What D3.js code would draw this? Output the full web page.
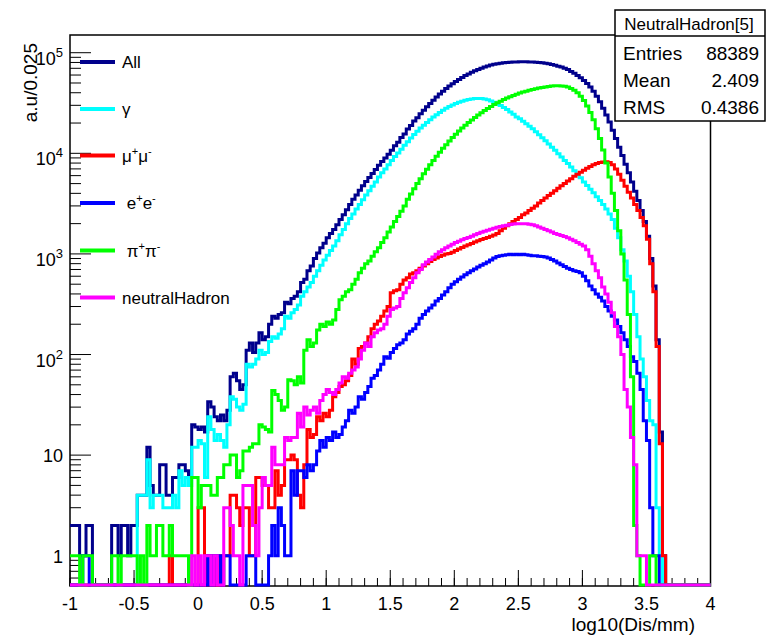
<!DOCTYPE html>
<html><head><meta charset="utf-8">
<script src="https://cdn.jsdelivr.net/npm/d3@7"></script>
<style>
body{margin:0;background:#fff}
svg{display:block}
text{font-family:"Liberation Sans",Arial,Helvetica,sans-serif;fill:#000}
</style>
</head><body>
<svg id="c" width="766" height="637"></svg>
<script>
// ---------------- data ----------------
const xDomain = [-1, 4];
const binWidth = 0.025;
const xTicks = [-1, -0.5, 0, 0.5, 1, 1.5, 2, 2.5, 3, 3.5, 4];
const xTickLabels = ["-1", "-0.5", "0", "0.5", "1", "1.5", "2", "2.5", "3", "3.5", "4"];
const yDomain = [0.5, 1.5e5];
const yMajorTicks = [1, 10, 100, 1000, 10000, 100000];
const yTickBase = ["1", "10", "10", "10", "10", "10"];
const yTickExp = ["", "", "2", "3", "4", "5"];
const xTitle = "log10(Dis/mm)";
const yTitle = "a.u/0.025";

// 200 bins of width 0.025 from -1 to 4
const allVals = [
 2,2,2,1,1,2,2,0,0,0,
 0,0,0,2,2,1,2,2,1,2,
 2,4,4,4,12,5,4,4,8,8,
 4,4,6,6,8,8,7,6,20,19,
 18,19,17,34,30,24,22,25,22,28,
 60,65,55,45,50,110,130,105,130,165,
 140,150,200,240,230,250,260,330,320,360,
 380,420,520,560,680,760,900,1020,1150,1280,
 1450,1600,1750,1950,2200,2450,2750,3100,3500,3850,
 4300,4750,5250,5750,6300,6900,7600,8300,9000,9800,
 10700,11900,12900,14400,15600,17400,18900,20900,22600,24800,
 26800,29000,31300,33700,36200,38800,41400,44000,46600,49200,
 51800,54300,56800,59200,61500,63800,66000,68000,70000,72000,
 73800,75300,76600,77700,78600,79400,80000,80500,81000,81000,
 81500,81500,81500,81000,81000,80500,80000,79500,78500,77500,
 76500,75000,73500,72000,70000,68000,65000,62500,59500,56500,
 53000,49500,45500,41500,37000,32500,28000,24000,20500,17000,
 14000,11500,9500,7800,6400,5200,4200,3400,2700,2100,
 1500,900,480,140,17,1,0,0,0,0,
 0,0,0,0,0,0,0,0,0,0
];
const gammaVals = [
 0,0,0,0,0,0,0,0,0,0,
 0,0,0,0,0,0,0,0,0,0,
 0,4,4,4,9,3,4,4,4,3,
 3,3,4,3,7,5,6,5,12,12,
 14,13,6,24,18,14,16,14,12,20,
 38,36,30,28,32,80,75,80,90,110,
 100,105,135,150,145,160,180,240,230,260,
 280,310,380,420,470,520,600,680,770,870,
 970,1080,1200,1350,1550,1750,2000,2250,2500,2800,
 3100,3450,3850,4250,4700,5200,5800,6400,7000,7700,
 8500,9300,10100,11000,12000,13000,14200,15400,16600,17800,
 19000,20300,21600,22900,24200,25500,26800,28000,29200,30300,
 31300,32200,33000,33700,34300,34700,35000,35100,35000,34600,
 34000,33200,32200,31000,29800,28500,27200,25800,24400,23000,
 22000,20800,19700,18600,17500,16400,15300,14300,13300,12400,
 11500,10700,9900,9200,8500,7900,7300,6700,6200,5700,
 5200,4800,4400,4050,3700,3400,3100,2800,2500,2200,
 1800,1450,1100,850,600,420,250,150,90,60,
 35,22,20,3,1,0,0,0,0,0,
 0,0,0,0,0,0,0,0,0,0
];
const muVals = [
 0,0,0,0,0,0,0,0,0,0,
 0,0,0,0,0,0,0,0,0,0,
 0,0,0,0,0,0,0,0,0,0,
 0,1,0,0,0,0,0,0,0,0,
 3,3,0,1,1,0,1,0,1,1,
 4,4,3,2,3,3,1,1,6,6,
 5,5,3,3,7,4,5,9,9,10,
 9,4,3,8,18,15,16,24,22,26,
 24,28,38,42,48,50,55,62,90,80,
 115,120,130,150,180,200,215,240,270,300,
 410,430,440,500,550,580,630,650,680,720,
 760,800,840,880,910,940,970,1000,1010,1040,
 1080,1120,1160,1200,1230,1270,1310,1350,1390,1420,
 1460,1500,1540,1600,1700,1800,1900,2000,2100,2200,
 2300,2450,2550,2700,2850,3000,3200,3400,3600,3800,
 4000,4250,4500,4750,5000,5300,5600,5900,6200,6500,
 6800,7100,7400,7700,7900,8100,8200,8250,8100,7700,
 7000,6200,5400,4700,4100,3600,3100,2700,2300,1900,
 1400,800,420,120,13,1,0,0,0,0,
 0,0,0,0,0,0,0,0,0,0
];
const eVals = [
 0,0,0,0,1,1,0,0,0,0,
 0,0,0,0,0,0,0,0,0,0,
 0,0,0,0,0,0,0,0,0,0,
 0,0,0,0,0,0,0,0,0,0,
 0,0,0,1,0,1,1,0,1,1,
 0,0,0,0,0,1,1,1,0,0,
 0,0,1,2,1,3,2,1,1,7,
 4,7,7,6,8,7,8,11,14,12,
 15,14,17,15,16,19,22,28,26,30,
 38,36,42,48,58,62,70,80,95,92,
 105,115,125,130,140,160,170,180,200,230,
 250,270,290,310,340,360,390,420,460,500,
 530,560,590,620,650,680,710,740,770,800,
 830,870,910,940,960,970,980,990,980,990,
 980,990,980,970,960,960,950,940,930,910,
 880,850,810,780,750,720,700,680,670,650,
 600,540,480,440,400,370,340,300,270,240,
 220,190,165,140,120,95,85,65,45,22,
 14,3,1,1,0,0,0,0,0,0,
 0,0,0,0,0,0,0,0,0,0
];
const piVals = [
 1,1,1,0,1,1,1,0,0,0,
 0,0,0,1,1,0,1,1,1,1,
 1,0,1,0,2,1,1,2,2,1,
 1,2,1,1,1,1,1,0,6,6,
 3,5,5,5,4,4,6,6,8,8,
 10,10,6,7,11,11,12,13,13,20,
 19,18,17,44,40,35,28,30,56,55,
 50,60,52,110,140,120,130,175,200,190,
 210,200,220,280,350,380,420,440,500,560,
 650,720,800,850,950,1050,1150,1300,1450,1650,
 1850,2100,2350,2650,3000,3500,3950,4450,5000,5600,
 6250,6950,7700,8500,9350,10250,11200,12200,13250,14350,
 15500,16650,17800,19000,20200,21400,22700,24000,25300,26600,
 27900,29200,30500,31800,33000,34200,35400,36500,37600,38700,
 39700,40600,41500,42300,43100,43800,44500,45100,45700,46200,
 46700,47000,47000,46800,46300,45500,44200,42400,40000,37000,
 33500,29500,25500,21500,17500,14000,10800,8000,5800,4000,
 2700,1700,1000,550,250,60,2,1,0,0,
 0,1,1,0,0,0,0,0,0,0,
 0,0,0,0,0,0,0,0,0,0
];
const nhVals = [
 0,0,0,0,0,0,0,0,0,0,
 0,0,0,0,0,0,0,0,0,0,
 0,0,0,0,0,0,0,0,0,0,
 0,0,0,0,0,0,0,0,1,0,
 1,0,1,1,0,1,0,0,3,3,
 2,1,1,0,5,5,5,2,1,3,
 6,5,5,12,8,8,8,15,14,15,
 15,26,19,30,25,28,30,26,35,40,
 45,42,40,45,52,60,58,65,70,75,
 90,110,130,120,150,165,175,180,200,240,
 280,290,300,360,410,460,520,580,650,700,
 780,830,880,930,990,1050,1100,1150,1200,1250,
 1300,1340,1380,1420,1460,1500,1550,1600,1640,1680,
 1720,1760,1800,1840,1870,1900,1930,1960,1980,2000,
 2000,2000,1990,1970,1950,1900,1850,1800,1750,1700,
 1650,1600,1560,1520,1490,1450,1400,1350,1300,1250,
 1200,1100,950,800,680,580,470,400,330,260,
 190,150,100,45,30,15,8,1,1,1,
 0,0,0,0,0,0,0,0,0,0,
 0,0,0,0,0,0,0,0,0,0
];

// legend labels as [text, isSuperscript] segments
const legendLabels = [
  [["All", false]],
  [["γ", false]],
  [["μ", false], ["+", true], ["μ", false], ["-", true]],
  [[" e", false], ["+", true], ["e", false], ["-", true]],
  [[" π", false], ["+", true], ["π", false], ["-", true]],
  [["neutralHadron", false]]
];
const seriesColors = ["#00008c", "#00ffff", "#ff0000", "#0000ff", "#00ff00", "#ff00ff"];
const seriesData = [allVals, gammaVals, muVals, eVals, piVals, nhVals];

const statsTitle = "NeutralHadron[5]";
const statsLabels = ["Entries", "Mean", "RMS"];
const statsValues = ["88389", "2.409", "0.4386"];

// ---------------- drawing ----------------
const svg = d3.select("#c");
const L = 70, R = 710.5, T = 35, B = 586;
const x = d3.scaleLinear().domain(xDomain).range([L, R]);
const y = d3.scaleLog().domain(yDomain).range([B, T]);

svg.append("defs").append("clipPath").attr("id", "clip")
  .append("rect").attr("x", L).attr("y", T - 2).attr("width", R - L + 1).attr("height", B - T + 3);

// frame (drawn first; histogram floor lines lie over it)
svg.append("rect").attr("x", L).attr("y", T).attr("width", R - L).attr("height", B - T)
  .attr("fill", "none").attr("stroke", "#000").attr("stroke-width", 1.5);

// axes ticks
const g = svg.append("g");
const xMinor = d3.range(0, 51).map(k => xDomain[0] + k * 0.1);
g.selectAll("line.xmin").data(xMinor).enter().append("line")
  .attr("x1", d => x(d)).attr("x2", d => x(d)).attr("y1", B).attr("y2", B - 8)
  .attr("stroke", "#000").attr("stroke-width", 1);
g.selectAll("line.xmaj").data(xTicks).enter().append("line")
  .attr("x1", d => x(d)).attr("x2", d => x(d)).attr("y1", B).attr("y2", B - 16)
  .attr("stroke", "#000").attr("stroke-width", 1);
const yMinor = y.ticks(60).filter(v => v > yDomain[0] && v < yDomain[1] && Math.abs(Math.log10(v) - Math.round(Math.log10(v))) > 1e-6);
g.selectAll("line.ymin").data(yMinor).enter().append("line")
  .attr("x1", L).attr("x2", L + 11).attr("y1", d => y(d)).attr("y2", d => y(d))
  .attr("stroke", "#000").attr("stroke-width", 1);
g.selectAll("line.ymaj").data(yMajorTicks).enter().append("line")
  .attr("x1", L).attr("x2", L + 21).attr("y1", d => y(d)).attr("y2", d => y(d))
  .attr("stroke", "#000").attr("stroke-width", 1);

g.selectAll("text.xl").data(xTicks).enter().append("text")
  .attr("x", d => x(d)).attr("y", 610).attr("text-anchor", "middle")
  .attr("font-size", 18).text((d, i) => xTickLabels[i]);
yMajorTicks.forEach((v, i) => {
  const t = g.append("text").attr("x", 63).attr("text-anchor", "end").attr("font-size", 18);
  if (yTickExp[i]) {
    t.attr("y", y(v) + 12);
    t.append("tspan").text(yTickBase[i]);
    t.append("tspan").attr("font-size", 13).attr("dy", -8).text(yTickExp[i]);
  } else {
    t.attr("y", y(v) + 7).text(yTickBase[i]);
  }
});
g.append("text").attr("x", 695).attr("y", 631).attr("text-anchor", "end")
  .attr("font-size", 19).text(xTitle);
g.append("text").attr("transform", "translate(37,43) rotate(-90)")
  .attr("text-anchor", "end").attr("font-size", 19).text(yTitle);

// histograms
const line = d3.line();
const hg = svg.append("g").attr("clip-path", "url(#clip)");
seriesData.forEach((vals, s) => {
  const pts = [];
  vals.forEach((v, i) => {
    const lo = xDomain[0] + i * binWidth, hi = lo + binWidth;
    const yy = v > 0 ? y(Math.max(v, yDomain[0])) : B - 1;
    pts.push([x(lo), yy], [x(hi), yy]);
  });
  hg.append("path").attr("d", line(pts)).attr("fill", "none")
    .attr("stroke", seriesColors[s]).attr("stroke-width", 3)
    .attr("stroke-linejoin", "miter");
});

// legend
const legY = [62, 109, 155.5, 203, 250.5, 297.5];
legendLabels.forEach((segs, i) => {
  svg.append("line").attr("x1", 80).attr("x2", 115).attr("y1", legY[i]).attr("y2", legY[i])
    .attr("stroke", seriesColors[i]).attr("stroke-width", 4);
  const t = svg.append("text").attr("x", 122).attr("y", legY[i] + 6).attr("font-size", 17)
    .attr("xml:space", "preserve").style("white-space", "pre");
  let up = false;
  segs.forEach(([txt, sup]) => {
    const ts = t.append("tspan").text(txt);
    if (sup && !up) { ts.attr("dy", -7).attr("font-size", 11); up = true; }
    else if (!sup && up) { ts.attr("dy", 7); up = false; }
    else if (sup) ts.attr("font-size", 11);
  });
});

// stats box
const sb = svg.append("g");
sb.append("rect").attr("x", 615).attr("y", 10).attr("width", 150).attr("height", 111)
  .attr("fill", "#fff").attr("stroke", "#000").attr("stroke-width", 1.5);
sb.append("line").attr("x1", 615).attr("x2", 765).attr("y1", 36).attr("y2", 36)
  .attr("stroke", "#000").attr("stroke-width", 1.5);
sb.append("text").attr("x", 689).attr("y", 29.5).attr("text-anchor", "middle")
  .attr("font-size", 17).text(statsTitle);
statsLabels.forEach((lab, i) => {
  const cy = 53 + i * 27;
  sb.append("text").attr("x", 623).attr("y", cy + 7).attr("font-size", 19).text(lab);
  sb.append("text").attr("x", 759).attr("y", cy + 7).attr("text-anchor", "end")
    .attr("font-size", 19).text(statsValues[i]);
});
</script>
</body></html>
